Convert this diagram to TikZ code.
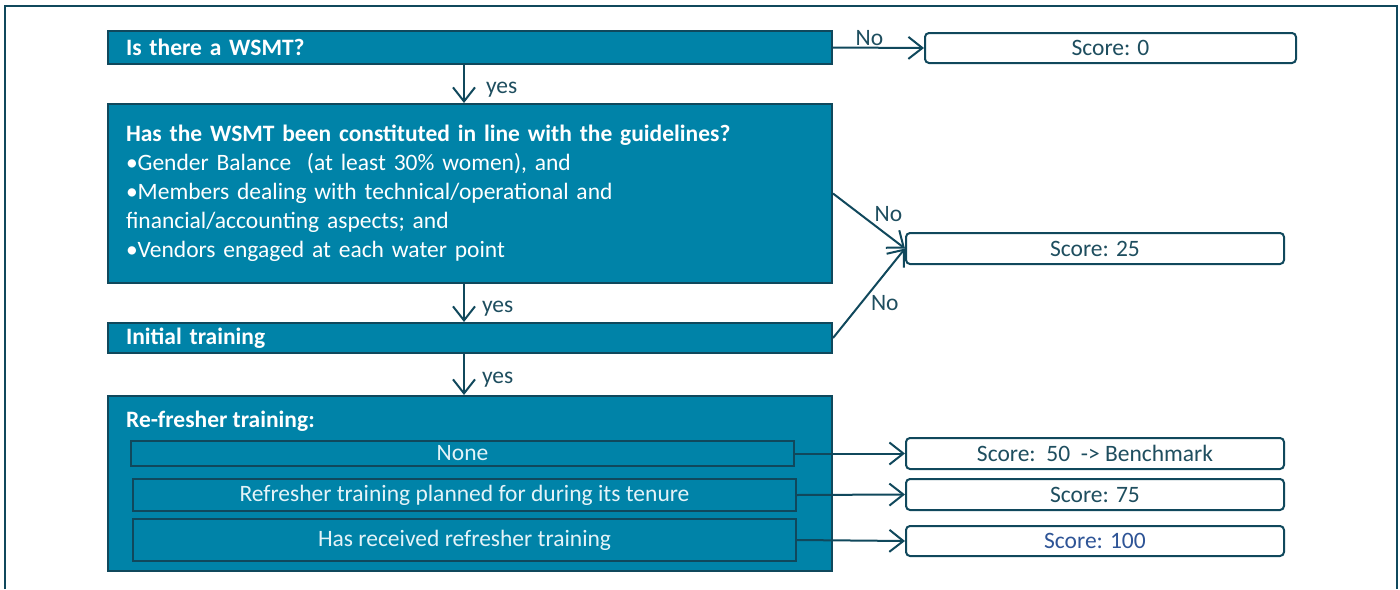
\documentclass[tikz,border=0pt]{standalone}
\usepackage{fontspec}
\setmainfont{Carlito}
\usetikzlibrary{arrows.meta}
\definecolor{wsmtfill}{RGB}{0,131,168}
\definecolor{wsmtedge}{RGB}{16,72,92}
\definecolor{scoretext}{RGB}{30,78,95}
\definecolor{scoreblue}{RGB}{46,84,150}
\definecolor{optiontext}{RGB}{228,243,248}
\begin{document}
\begin{tikzpicture}[x=1pt, y=-1pt,
    every node/.style={font=\fontsize{23.5}{29}\selectfont},
    qbox/.style={draw=wsmtedge, line width=2pt, fill=wsmtfill, text=white, anchor=north west, align=left, inner xsep=18pt, inner ysep=0pt},
    optbox/.style={draw=wsmtedge, line width=2pt, fill=wsmtfill, text=optiontext, anchor=north west, inner sep=0pt, minimum width=663pt},
    scorebox/.style={draw=wsmtedge, line width=2pt, rounded corners=4pt, fill=white, text=scoretext, anchor=north west, inner sep=0pt, minimum width=378pt, minimum height=31pt},
    flow/.style={draw=wsmtedge, line width=2pt, -{Straight Barb[length=14pt,width=22pt]}},
    lbl/.style={text=scoretext, inner sep=1pt}]
    \useasboundingbox (0,0) rectangle (1400,589);
    \draw[wsmtedge, line width=2pt] (5,589) -- (5,6) -- (1397,6) -- (1397,589); % frame

    % questions
    \node[qbox, text width=688pt, minimum height=33pt] (wsmt) at (107,30) {\textbf{Is there a WSMT?}};
    \node[qbox, text width=688pt, minimum height=179pt] (guide) at (107,103) {\textbf{Has the WSMT been constituted in line with the guidelines?}\\
        •Gender Balance\ \ (at least 30\% women), and\\
        •Members dealing with technical/operational and\\
        financial/accounting aspects; and\\
        •Vendors engaged at each water point};
    \node[qbox, text width=688pt, minimum height=30pt] (initial) at (107,322) {\textbf{Initial training}};
    \node[qbox, text width=688pt, minimum height=175pt] (refresh) at (107,395) {};
    \node[anchor=west, text=white, inner sep=0pt] (refhead) at (126,421) {\textbf{Re-fresher training:}};

    % options
    \node[optbox, minimum height=25pt] (none) at (130,440) {None};
    \node[optbox, minimum height=32pt] (planned) at (132,478) {Refresher training planned for during its tenure};
    \node[optbox, minimum height=42pt] (received) at (132,518) {Has received refresher training};

    % scores
    \node[scorebox, minimum width=371pt, minimum height=30pt] (score0) at (924,32) {Score: 0};
    \node[scorebox] (score25) at (905,232) {Score: 25};
    \node[scorebox] (score50) at (905,437) {Score:\ \ 50\ \ -> Benchmark};
    \node[scorebox] (score75) at (905,478) {Score: 75};
    \node[scorebox, minimum height=30pt, text=scoreblue] (score100) at (905,525) {Score: 100};

    % connectors
    \draw[flow] (wsmt.east) -- node[lbl, pos=0.4, above] {No} (score0.west);
    \draw[flow] (guide.east) -- node[lbl, pos=0.55, above right] {No} (score25.west);
    \draw[flow] (initial.east) -- node[lbl, pos=0.5, below right] {No} (score25.west);
    \draw[flow] ([xshift=-6pt]wsmt.south) -- node[lbl, pos=0.65, right, xshift=20pt] {yes} ([xshift=-6pt]guide.north);
    \draw[flow] ([xshift=-6pt]guide.south) -- node[lbl, pos=0.65, right, xshift=16pt] {yes} ([xshift=-6pt]initial.north);
    \draw[flow] ([xshift=-6pt]initial.south) -- node[lbl, pos=0.63, right, xshift=16pt] {yes} ([xshift=-6pt]refresh.north);
    \draw[flow] (none.east) -- (score50.west);
    \draw[flow] (planned.east) -- (score75.west);
    \draw[flow] (received.east) -- (score100.west);
\end{tikzpicture}
\end{document}
